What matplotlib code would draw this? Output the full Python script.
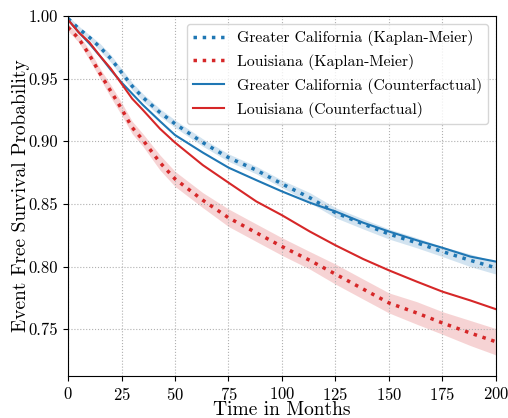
import matplotlib
matplotlib.use('Agg')
import matplotlib.pyplot as plt
import numpy as np

plt.rcParams['font.family'] = ['cmr10', 'DejaVu Serif']
plt.rcParams['mathtext.fontset'] = 'cm'
plt.rcParams['axes.formatter.use_mathtext'] = True

months = [0, 5, 10, 15, 20, 25, 30, 35, 43, 50, 63, 75, 88, 100, 113, 125,
          138, 150, 163, 175, 188, 200]

# Kaplan-Meier estimates
ca_km = [0.998, 0.990, 0.983, 0.975, 0.966, 0.955, 0.944, 0.935, 0.923, 0.914,
         0.899, 0.887, 0.877, 0.866, 0.855, 0.843, 0.834, 0.826, 0.819, 0.812,
         0.805, 0.799]
la_km = [0.991, 0.982, 0.969, 0.954, 0.940, 0.926, 0.911, 0.901, 0.883, 0.870,
         0.853, 0.839, 0.827, 0.816, 0.805, 0.794, 0.782, 0.771, 0.763, 0.755,
         0.747, 0.740]
# confidence band half widths
ca_ci = [0.002, 0.002, 0.002, 0.003, 0.003, 0.003, 0.003, 0.003, 0.003, 0.003,
         0.003, 0.003, 0.003, 0.003, 0.004, 0.004, 0.004, 0.004, 0.004, 0.004,
         0.005, 0.005]
la_ci = [0.003, 0.003, 0.004, 0.004, 0.005, 0.005, 0.005, 0.005, 0.006, 0.006,
         0.006, 0.007, 0.007, 0.007, 0.007, 0.008, 0.008, 0.008, 0.009, 0.009,
         0.010, 0.0105]

# counterfactual curves
ca_cf = [0.997, 0.987, 0.978, 0.968, 0.957, 0.947, 0.938, 0.929, 0.916, 0.905,
         0.891, 0.879, 0.869, 0.860, 0.851, 0.844, 0.835, 0.828, 0.821, 0.815,
         0.808, 0.804]
la_cf = [0.997, 0.987, 0.979, 0.968, 0.958, 0.946, 0.934, 0.925, 0.910, 0.899,
         0.881, 0.867, 0.852, 0.841, 0.828, 0.817, 0.806, 0.797, 0.788, 0.780,
         0.773, 0.766]

BLUE = '#1f77b4'
RED = '#d62728'

fig = plt.figure(figsize=(5.08, 4.18), dpi=100)
ax = fig.add_axes([68 / 508, 42 / 418, 428 / 508, 360 / 418])

t = np.array(months)
for km, ci, col in [(ca_km, ca_ci, BLUE), (la_km, la_ci, RED)]:
    km = np.array(km)
    ci = np.array(ci)
    ax.fill_between(t, km - ci, km + ci, color=col, alpha=0.2, linewidth=0)

ax.plot(t, ca_km, ':', color=BLUE, lw=2.5, label='Greater California (Kaplan-Meier)')
ax.plot(t, la_km, ':', color=RED, lw=2.5, label='Louisiana (Kaplan-Meier)')
ax.plot(t, ca_cf, '-', color=BLUE, lw=1.5, label='Greater California (Counterfactual)')
ax.plot(t, la_cf, '-', color=RED, lw=1.5, label='Louisiana (Counterfactual)')

ax.set_xlim(0, 200)
ax.set_ylim(0.7127, 1.0)
ax.set_xticks([0, 25, 50, 75, 100, 125, 150, 175, 200])
ax.set_yticks([0.75, 0.80, 0.85, 0.90, 0.95, 1.00])
ax.set_yticklabels(['0.75', '0.80', '0.85', '0.90', '0.95', '1.00'])
ax.tick_params(labelsize=12)
ax.grid(True, linestyle=':', color='#b0b0b0', linewidth=0.8)
ax.set_xlabel('Time in Months', fontsize=14)
ax.set_ylabel('Event Free Survival Probability', fontsize=14)
ax.xaxis.set_label_coords(0.5, -0.071)
ax.yaxis.set_label_coords(-0.089, 0.5)
ax.legend(loc='upper right', fontsize=11.3)

fig.savefig('out.png', dpi=100)
